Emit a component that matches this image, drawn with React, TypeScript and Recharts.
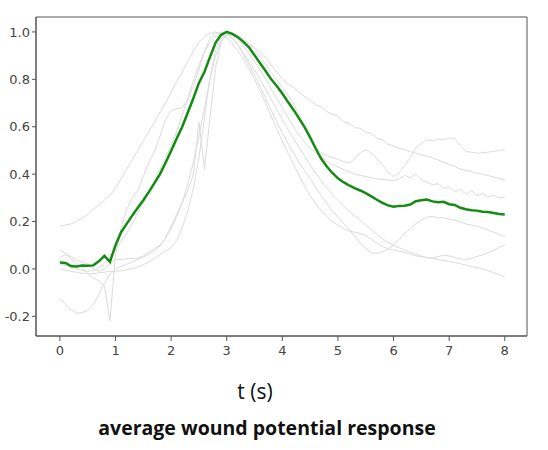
import React from 'react';
import { LineChart, Line, XAxis, YAxis, ReferenceArea } from 'recharts';

// sample times (s)
const time = [
  0.0, 0.1, 0.2, 0.3, 0.4, 0.5, 0.6, 0.7, 0.8, 0.9,
  1.0, 1.1, 1.2, 1.3, 1.4, 1.5, 1.6, 1.7, 1.8, 1.9,
  2.0, 2.1, 2.2, 2.3, 2.4, 2.5, 2.6, 2.7, 2.8, 2.9,
  3.0, 3.1, 3.2, 3.3, 3.4, 3.5, 3.6, 3.7, 3.8, 3.9,
  4.0, 4.1, 4.2, 4.3, 4.4, 4.5, 4.6, 4.7, 4.8, 4.9,
  5.0, 5.1, 5.2, 5.3, 5.4, 5.5, 5.6, 5.7, 5.8, 5.9,
  6.0, 6.1, 6.2, 6.3, 6.4, 6.5, 6.6, 6.7, 6.8, 6.9,
  7.0, 7.1, 7.2, 7.3, 7.4, 7.5, 7.6, 7.7, 7.8, 7.9,
  8.0,
];

// average response (green)
const avgResponse = [
  0.027, 0.025, 0.012, 0.010, 0.014, 0.013, 0.015, 0.032, 0.055, 0.030,
  0.100, 0.155, 0.190, 0.225, 0.258, 0.290, 0.325, 0.362, 0.400, 0.448,
  0.498, 0.550, 0.600, 0.660, 0.720, 0.785, 0.832, 0.895, 0.955, 0.988,
  1.000, 0.992, 0.978, 0.958, 0.935, 0.902, 0.868, 0.835, 0.800, 0.772,
  0.740, 0.705, 0.672, 0.635, 0.598, 0.555, 0.508, 0.465, 0.432, 0.405,
  0.382, 0.366, 0.352, 0.341, 0.331, 0.320, 0.306, 0.292, 0.279, 0.268,
  0.262, 0.266, 0.267, 0.272, 0.286, 0.290, 0.293, 0.285, 0.281, 0.283,
  0.273, 0.270, 0.258, 0.252, 0.248, 0.246, 0.241, 0.240, 0.236, 0.232,
  0.230,
];

// individual wounds (light grey)
const wound1 = [
  0.180, 0.185, 0.190, 0.200, 0.215, 0.230, 0.250, 0.270, 0.290, 0.310,
  0.340, 0.380, 0.420, 0.460, 0.500, 0.540, 0.580, 0.620, 0.660, 0.700,
  0.745, 0.790, 0.830, 0.875, 0.920, 0.955, 0.980, 0.995, 1.000, 0.990,
  0.975, 0.950, 0.920, 0.885, 0.845, 0.800, 0.750, 0.700, 0.645, 0.590,
  0.540, 0.490, 0.440, 0.395, 0.350, 0.310, 0.275, 0.245, 0.220, 0.200,
  0.185, 0.170, 0.160, 0.155, 0.150, 0.140, 0.125, 0.110, 0.095, 0.085,
  0.080, 0.075, 0.070, 0.062, 0.055, 0.052, 0.048, 0.045, 0.040, 0.035,
  0.031, 0.027, 0.022, 0.016, 0.010, 0.006, 0.000, -0.008, -0.015, -0.024,
  -0.033,
];

const wound2 = [
  0.080, 0.066, 0.042, 0.022, 0.002, -0.020, -0.038, -0.050, -0.070, -0.220,
  0.060, 0.170, 0.250, 0.300, 0.330, 0.390, 0.450, 0.495, 0.560, 0.630,
  0.668, 0.676, 0.680, 0.712, 0.772, 0.842, 0.918, 0.972, 0.994, 1.000,
  0.995, 0.988, 0.978, 0.965, 0.950, 0.934, 0.914, 0.890, 0.860, 0.830,
  0.802, 0.782, 0.766, 0.746, 0.728, 0.712, 0.694, 0.682, 0.664, 0.652,
  0.645, 0.620, 0.615, 0.596, 0.594, 0.576, 0.572, 0.551, 0.545, 0.526,
  0.520, 0.508, 0.503, 0.494, 0.490, 0.481, 0.475, 0.468, 0.460, 0.450,
  0.441, 0.432, 0.421, 0.416, 0.410, 0.404, 0.400, 0.394, 0.388, 0.381,
  0.376,
];

const wound3 = [
  -0.124, -0.150, -0.172, -0.186, -0.185, -0.174, -0.150, -0.108, -0.060, -0.022,
  -0.002, 0.010, 0.020, 0.030, 0.040, 0.050, 0.062, 0.076, 0.096, 0.130,
  0.180, 0.230, 0.280, 0.330, 0.400, 0.620, 0.420, 0.640, 0.850, 0.960,
  0.990, 0.975, 0.945, 0.905, 0.862, 0.818, 0.770, 0.720, 0.670, 0.620,
  0.575, 0.530, 0.490, 0.450, 0.415, 0.380, 0.345, 0.310, 0.275, 0.245,
  0.218, 0.193, 0.168, 0.138, 0.110, 0.086, 0.068, 0.066, 0.072, 0.085,
  0.102, 0.125, 0.150, 0.170, 0.190, 0.205, 0.218, 0.222, 0.215, 0.216,
  0.210, 0.205, 0.198, 0.190, 0.185, 0.180, 0.172, 0.164, 0.155, 0.146,
  0.137,
];

const wound4 = [
  0.000, -0.004, -0.010, -0.014, -0.018, -0.020, -0.020, -0.016, -0.014, -0.010,
  -0.010, -0.008, -0.004, 0.000, 0.008, 0.018, 0.030, 0.044, 0.060, 0.074,
  0.090, 0.120, 0.175, 0.245, 0.340, 0.470, 0.640, 0.810, 0.925, 0.972,
  0.990, 0.995, 0.985, 0.970, 0.950, 0.925, 0.895, 0.862, 0.830, 0.798,
  0.765, 0.733, 0.700, 0.650, 0.600, 0.552, 0.512, 0.490, 0.478, 0.470,
  0.462, 0.452, 0.447, 0.465, 0.490, 0.503, 0.490, 0.465, 0.440, 0.410,
  0.390, 0.405, 0.435, 0.470, 0.510, 0.530, 0.545, 0.540, 0.548, 0.545,
  0.552, 0.550, 0.520, 0.496, 0.492, 0.489, 0.490, 0.493, 0.496, 0.500,
  0.503,
];

const wound5 = [
  0.050, 0.060, 0.052, 0.036, 0.030, 0.020, 0.002, -0.010, 0.000, 0.020,
  0.040, 0.040, 0.042, 0.044, 0.046, 0.055, 0.070, 0.085, 0.100, 0.130,
  0.170, 0.220, 0.280, 0.360, 0.450, 0.560, 0.680, 0.800, 0.900, 0.960,
  0.985, 0.990, 0.970, 0.940, 0.910, 0.875, 0.840, 0.800, 0.760, 0.720,
  0.680, 0.640, 0.600, 0.565, 0.535, 0.510, 0.490, 0.470, 0.455, 0.440,
  0.430, 0.420, 0.410, 0.400, 0.395, 0.390, 0.385, 0.380, 0.378, 0.375,
  0.372, 0.380, 0.395, 0.385, 0.400, 0.375, 0.368, 0.355, 0.360, 0.340,
  0.345, 0.325, 0.335, 0.315, 0.330, 0.310, 0.318, 0.305, 0.310, 0.300,
  0.302,
];

const wound6 = [
  0.020, 0.015, 0.008, 0.000, -0.006, -0.010, -0.006, 0.005, 0.025, 0.050,
  0.080, 0.115, 0.150, 0.190, 0.235, 0.280, 0.325, 0.372, 0.420, 0.470,
  0.520, 0.580, 0.650, 0.720, 0.795, 0.860, 0.915, 0.955, 0.980, 0.992,
  0.995, 0.975, 0.945, 0.910, 0.875, 0.840, 0.800, 0.758, 0.715, 0.672,
  0.630, 0.590, 0.552, 0.512, 0.475, 0.440, 0.405, 0.372, 0.342, 0.314,
  0.290, 0.266, 0.245, 0.225, 0.205, 0.185, 0.165, 0.146, 0.128, 0.112,
  0.100, 0.090, 0.080, 0.070, 0.062, 0.054, 0.047, 0.046, 0.052, 0.058,
  0.055, 0.048, 0.042, 0.038, 0.045, 0.052, 0.060, 0.068, 0.078, 0.090,
  0.100,
];

const xTicks = [0, 1, 2, 3, 4, 5, 6, 7, 8];
const yTicks = [-0.2, 0.0, 0.2, 0.4, 0.6, 0.8, 1.0];

const wounds = [wound1, wound2, wound3, wound4, wound5, wound6];
const woundColors = ['#dcdcdc', '#e0d8dc', '#d8dbe0', '#dddddd', '#e0dada', '#d9ddd9'];

const rows = time.map((t, i) => {
  const row: Record<string, number> = { t, avg: avgResponse[i] };
  wounds.forEach((w, k) => {
    row['w' + (k + 1)] = w[i];
  });
  return row;
});

const X_DOMAIN: [number, number] = [-0.43, 8.4];
const Y_DOMAIN: [number, number] = [-0.283, 1.063];

const tickStyle = { fill: '#444', fontSize: 13, fontFamily: 'DejaVu Sans' };

export default function App() {
  return (
    <div style={{ position: 'absolute', left: 0, top: 0, width: 548, height: 450, background: '#fff' }}>
      <LineChart width={548} height={450} data={rows} margin={{ top: 17, right: 21, bottom: 84, left: 0 }}>
        <XAxis
          dataKey="t"
          type="number"
          domain={X_DOMAIN}
          ticks={xTicks}
          allowDataOverflow
          height={30}
          tickSize={5}
          tickMargin={5}
          tick={tickStyle}
          stroke="#555"
        />
        <YAxis
          type="number"
          domain={Y_DOMAIN}
          ticks={yTicks}
          allowDataOverflow
          width={36}
          tickSize={4}
          tick={tickStyle}
          stroke="#555"
          tickFormatter={(v: number) => v.toFixed(1)}
        />
        <ReferenceArea x1={X_DOMAIN[0]} x2={X_DOMAIN[1]} y1={Y_DOMAIN[0]} y2={Y_DOMAIN[1]} fill="none" stroke="#555" strokeWidth={1} />
        {wounds.map((_, k) => (
          <Line
            key={k}
            dataKey={'w' + (k + 1)}
            type="linear"
            stroke={woundColors[k]}
            strokeWidth={1}
            dot={false}
            activeDot={false}
            isAnimationActive={false}
          />
        ))}
        <Line dataKey="avg" type="linear" stroke="#148c14" strokeWidth={2.5} dot={false} activeDot={false} isAnimationActive={false} />
      </LineChart>
      <div style={{ position: 'absolute', left: 155, width: 200, top: 377, textAlign: 'center', fontFamily: 'Open Sans', fontSize: 21, color: '#111', lineHeight: '28px' }}>
        t (s)
      </div>
      <div style={{ position: 'absolute', left: 0, width: 534, top: 414, textAlign: 'center', fontFamily: 'Open Sans', fontWeight: 700, fontSize: 19.5, color: '#111', lineHeight: '28px' }}>
        average wound potential response
      </div>
    </div>
  );
}
